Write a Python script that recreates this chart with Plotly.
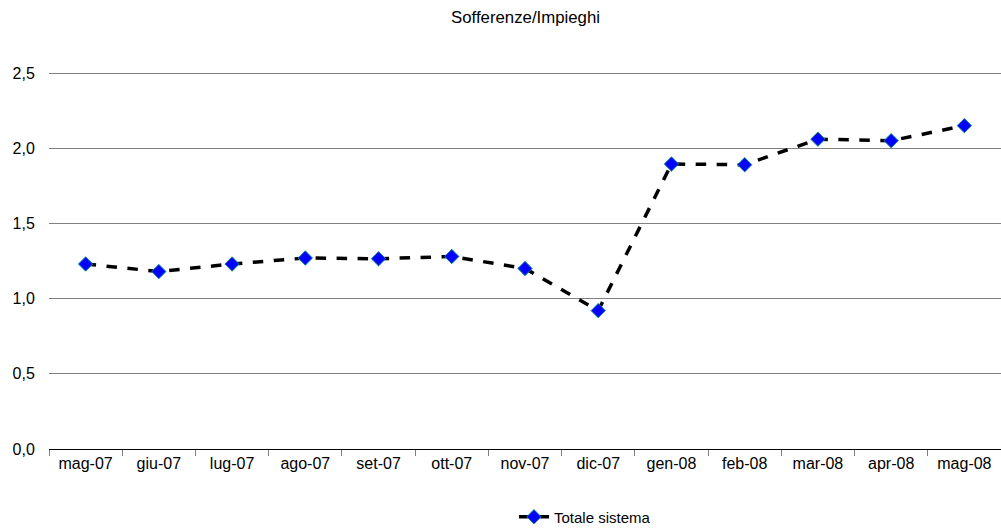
import plotly.graph_objects as go

categories = ["mag-07", "giu-07", "lug-07", "ago-07", "set-07", "ott-07", "nov-07",
              "dic-07", "gen-08", "feb-08", "mar-08", "apr-08", "mag-08"]
totale_sistema = [1.23, 1.18, 1.23, 1.27, 1.265, 1.28, 1.20, 0.92, 1.895, 1.89, 2.06, 2.05, 2.15]
y_ticks = [0, 0.5, 1.0, 1.5, 2.0, 2.5]
y_tick_labels = ["0,0", "0,5", "1,0", "1,5", "2,0", "2,5"]

font_family = "Liberation Sans, Arial, sans-serif"

fig = go.Figure()
fig.add_trace(go.Scatter(
    x=categories, y=totale_sistema, mode="lines+markers", name="Totale sistema",
    line=dict(color="black", width=3.5, dash="dash"),
    marker=dict(symbol="diamond", size=11, color="#0000FF",
                line=dict(color="#008B8B", width=1)),
))

fig.update_layout(
    width=1001, height=529,
    margin=dict(l=49, r=0, t=70, b=80),
    paper_bgcolor="white", plot_bgcolor="white",
    font=dict(family=font_family, size=16, color="black"),
    title=dict(text="Sofferenze/Impieghi", x=0.525, xanchor="center",
               y=1 - 17 / 529, yanchor="middle",
               font=dict(family=font_family, size=16.8, color="black")),
    showlegend=True,
    legend=dict(orientation="h", x=0.563, xanchor="center",
                yref="container", y=1 - 517 / 529, yanchor="middle",
                font=dict(family=font_family, size=15, color="black"),
                bgcolor="rgba(0,0,0,0)"),
)
fig.update_xaxes(
    type="category", range=[-0.5, 12.5],
    showgrid=False, showline=True, linecolor="black", linewidth=1,
    ticks="outside", tickson="boundaries", ticklen=6, tickcolor="#808080",
    tickfont=dict(family=font_family, size=16, color="black"),
)
fig.update_yaxes(
    range=[0, 2.52], tickvals=y_ticks, ticktext=y_tick_labels,
    showgrid=True, gridcolor="#808080", gridwidth=1,
    zeroline=False, showline=False, ticks="outside", ticklen=10, tickcolor="white",
    tickfont=dict(family=font_family, size=16, color="black"),
)

fig.write_html("out.html", config={"displayModeBar": False},
               post_script="document.body.style.margin='0';")
